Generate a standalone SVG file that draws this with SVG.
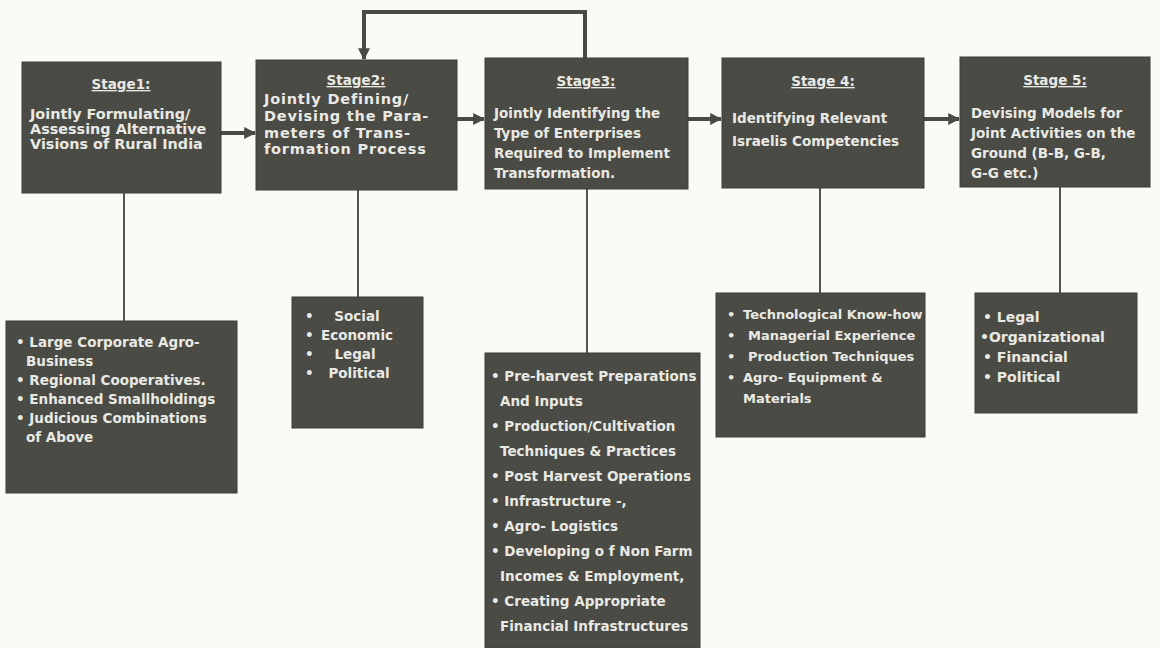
<svg xmlns="http://www.w3.org/2000/svg" width="1160" height="648" viewBox="0 0 1160 648">
<defs>
<style>
.bg{fill:#fafaf7}
.box{fill:#4b4b45;stroke:#3e3e39;stroke-width:1}
.t{font-family:"DejaVu Sans","Liberation Sans",sans-serif;font-weight:bold;font-size:13.5px;fill:#e9e9e4}
.s1{font-size:14.4px}
.s2{font-size:14.5px;letter-spacing:0.8px}
.s4{font-size:13px}
.s5{font-size:14px}
.ti{text-anchor:middle;text-decoration:underline}
.c{text-anchor:middle}
.thick{stroke:#4a4a45;stroke-width:4;fill:none}
.thin{stroke:#555550;stroke-width:2;fill:none}
</style>
<marker id="ah" viewBox="0 0 10 10" refX="9" refY="5" markerWidth="3" markerHeight="3" orient="auto" markerUnits="strokeWidth">
<path d="M0,0 L10,5 L0,10 z" fill="#4a4a45"/>
</marker>
</defs>
<rect class="bg" x="0" y="0" width="1160" height="648"/>
<g id="connectors">
<line class="thick" x1="221" y1="133" x2="255" y2="133" marker-end="url(#ah)"/>
<line class="thick" x1="457" y1="119" x2="484" y2="119" marker-end="url(#ah)"/>
<line class="thick" x1="688" y1="119" x2="721" y2="119" marker-end="url(#ah)"/>
<line class="thick" x1="924" y1="119" x2="959" y2="119" marker-end="url(#ah)"/>
<path class="thick" d="M585,58 V12 H364 V59" marker-end="url(#ah)"/>
<line class="thin" x1="124" y1="193" x2="124" y2="321"/>
<line class="thin" x1="358" y1="190" x2="358" y2="297"/>
<line class="thin" x1="587" y1="189" x2="587" y2="353"/>
<line class="thin" x1="820" y1="188" x2="820" y2="293"/>
<line class="thin" x1="1060" y1="187" x2="1060" y2="293"/>
</g>
<g id="stage1">
<rect class="box" x="22" y="62" width="199" height="131"/>
<text class="t ti" x="121" y="89">Stage1:</text>
<text class="t s1" x="30" y="119">Jointly Formulating/</text>
<text class="t s1" x="30" y="134">Assessing Alternative</text>
<text class="t s1" x="30" y="149">Visions of Rural India</text>
</g>
<g id="stage2">
<rect class="box" x="256" y="60" width="201" height="130"/>
<text class="t ti" x="356" y="85">Stage2:</text>
<text class="t s2" x="264" y="104">Jointly Defining/</text>
<text class="t s2" x="264" y="121">Devising the Para-</text>
<text class="t s2" x="264" y="138">meters of Trans-</text>
<text class="t s2" x="264" y="154">formation Process</text>
</g>
<g id="stage3">
<rect class="box" x="485" y="58" width="203" height="131"/>
<text class="t ti" x="586" y="86">Stage3:</text>
<text class="t" x="494" y="118">Jointly Identifying  the</text>
<text class="t" x="494" y="138">Type of Enterprises</text>
<text class="t" x="494" y="158">Required to Implement</text>
<text class="t" x="494" y="178">Transformation.</text>
</g>
<g id="stage4">
<rect class="box" x="722" y="58" width="202" height="130"/>
<text class="t ti" x="823" y="86">Stage 4:</text>
<text class="t" x="732" y="123">Identifying Relevant</text>
<text class="t" x="732" y="146">Israelis Competencies</text>
</g>
<g id="stage5">
<rect class="box" x="960" y="57" width="190" height="130"/>
<text class="t ti" x="1055" y="85">Stage 5:</text>
<text class="t" x="971" y="118">Devising Models for</text>
<text class="t" x="971" y="138">Joint Activities on the</text>
<text class="t" x="971" y="158">Ground (B-B, G-B,</text>
<text class="t" x="971" y="178">G-G etc.)</text>
</g>
<g id="list1">
<rect class="box" x="6" y="321" width="231" height="172"/>
<text class="t" x="16" y="347">• Large Corporate Agro-</text>
<text class="t" x="26" y="366">Business</text>
<text class="t" x="16" y="385">• Regional Cooperatives.</text>
<text class="t" x="16" y="404">• Enhanced Smallholdings</text>
<text class="t" x="16" y="423">• Judicious Combinations</text>
<text class="t" x="26" y="442">of Above</text>
</g>
<g id="list2">
<rect class="box" x="292" y="297" width="131" height="131"/>
<text class="t" x="305" y="321">•</text>
<text class="t c" x="357" y="321">Social</text>
<text class="t" x="305" y="340">•</text>
<text class="t c" x="357" y="340">Economic</text>
<text class="t" x="305" y="359">•</text>
<text class="t c" x="355" y="359">Legal</text>
<text class="t" x="305" y="378">•</text>
<text class="t c" x="359" y="378">Political</text>
</g>
<g id="list3">
<rect class="box" x="485" y="353" width="215" height="295"/>
<text class="t" x="491" y="381">• Pre-harvest Preparations</text>
<text class="t" x="500" y="406">And Inputs</text>
<text class="t" x="491" y="431">• Production/Cultivation</text>
<text class="t" x="500" y="456">Techniques &amp; Practices</text>
<text class="t" x="491" y="481">• Post Harvest Operations</text>
<text class="t" x="491" y="506">• Infrastructure -,</text>
<text class="t" x="491" y="531">• Agro- Logistics</text>
<text class="t" x="491" y="556">• Developing o f Non Farm</text>
<text class="t" x="500" y="581">Incomes &amp; Employment,</text>
<text class="t" x="491" y="606">• Creating Appropriate</text>
<text class="t" x="500" y="631">Financial Infrastructures</text>
</g>
<g id="list4">
<rect class="box" x="716" y="293" width="209" height="144"/>
<text class="t s4" x="727" y="319">•</text>
<text class="t s4" x="743" y="319">Technological Know-how</text>
<text class="t s4" x="727" y="340">•</text>
<text class="t s4" x="748" y="340">Managerial Experience</text>
<text class="t s4" x="727" y="361">•</text>
<text class="t s4" x="748" y="361">Production Techniques</text>
<text class="t s4" x="727" y="382">•</text>
<text class="t s4" x="743" y="382">Agro- Equipment  &amp;</text>
<text class="t s4" x="743" y="403">Materials</text>
</g>
<g id="list5">
<rect class="box" x="975" y="293" width="162" height="120"/>
<text class="t s5" x="983" y="322">• Legal</text>
<text class="t s5" x="980" y="342">•Organizational</text>
<text class="t s5" x="983" y="362">• Financial</text>
<text class="t s5" x="983" y="382">• Political</text>
</g>
</svg>
